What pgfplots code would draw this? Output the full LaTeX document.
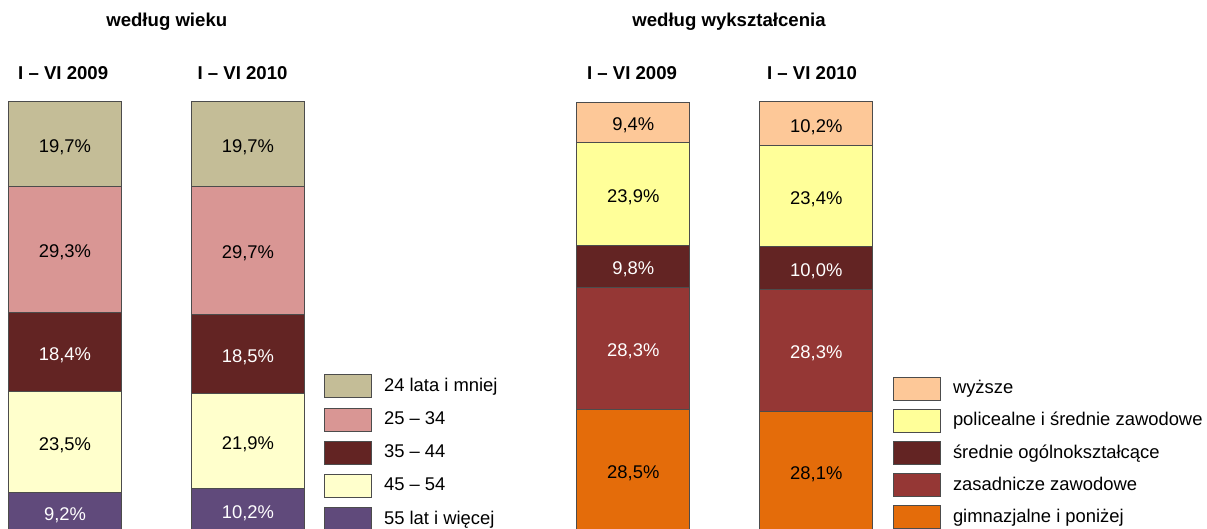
\documentclass[border=0pt]{standalone}
\usepackage{pgfplots}
\pgfplotsset{compat=1.18}
\usepackage{fontspec}
\setmainfont{Liberation Sans}
\definecolor{cA}{HTML}{C4BD97}
\definecolor{cB}{HTML}{D99694}
\definecolor{cC}{HTML}{632423}
\definecolor{cD}{HTML}{FFFFCC}
\definecolor{cE}{HTML}{604A7B}
\definecolor{eA}{HTML}{FDC898}
\definecolor{eB}{HTML}{FFFF99}
\definecolor{eC}{HTML}{632423}
\definecolor{eD}{HTML}{953735}
\definecolor{eE}{HTML}{E46C0A}
\pgfplotsset{
  base/.style={x=91.5pt, y=2.15pt, ymin=0, ymax=100, hide axis, clip=false, anchor=south west},
  leftax/.style={base, xmin=-0.3552, xmax=1.34, at={(0pt,-1.5pt)}},
  rightax/.style={base, xmin=-1, xmax=2, at={(225.15pt,-1.5pt)}},
  seg/.style={fill=#1, draw=black!70, line width=0.5pt,
    legend image code/.code={\draw[##1] (0pt,-5.75pt) rectangle (23.5pt,5.75pt);}},
  lab/.style={draw=none, mark=none, point meta=explicit,
    nodes near coords={\pgfmathprintnumber[assume math mode=true,use comma,fixed,fixed zerofill,precision=1]{\pgfplotspointmeta}\%},
    nodes near coords align=center,
    every node near coord/.append style={font=\fontsize{9.2}{11}\selectfont, text=#1, inner sep=0pt, anchor=center, yshift=-1.5pt}},
  legst/.style={legend style={draw=none, fill=none, inner sep=0pt, outer sep=0pt,
    column sep=6pt, anchor=north west,
    nodes={inner sep=0pt, anchor=west, font=\fontsize{9.2}{11}\selectfont}}},
}
\begin{document}
\begin{tikzpicture}
\useasboundingbox (0pt,0pt) rectangle (603.5pt,264.5pt);
% ---------- left: by age ----------
\begin{axis}[leftax, ybar stacked, bar width=56.5pt, legst, reverse legend,
  legend style={at={(1.0445,0.3663)}, row sep=4.6pt}]
\addplot[seg=cE] coordinates {(0,9.2) (1,10.2)};
\addlegendentry{55 lat i więcej}
\addplot[seg=cD] coordinates {(0,23.5) (1,21.9)};
\addlegendentry{45 – 54}
\addplot[seg=cC] coordinates {(0,18.4) (1,18.5)};
\addlegendentry{35 – 44}
\addplot[seg=cB] coordinates {(0,29.3) (1,29.7)};
\addlegendentry{25 – 34}
\addplot[seg=cA] coordinates {(0,19.7) (1,19.7)};
\addlegendentry{24 lata i mniej}
\end{axis}
\begin{axis}[leftax]
\addplot[lab=black] table[x=x,y=y,meta=v] {
x y v
0 90.25 19.7
0 65.75 29.3
0 20.95 23.5
1 90.15 19.7
1 65.45 29.7
1 21.15 21.9
};
\addplot[lab=white] table[x=x,y=y,meta=v] {
x y v
0 41.9 18.4
0 4.6 9.2
1 41.35 18.5
1 5.1 10.2
};
\node[font=\bfseries\fontsize{9.3}{11}\selectfont] at (axis cs:0.556,118.6) {według wieku};
\node[font=\bfseries\fontsize{9.3}{11}\selectfont] at (axis cs:-0.01,106.74) {I – VI 2009};
\node[font=\bfseries\fontsize{9.3}{11}\selectfont] at (axis cs:0.97,106.74) {I – VI 2010};
\end{axis}
% ---------- right: by education ----------
\begin{axis}[rightax, ybar stacked, bar width=56.5pt, legst, reverse legend,
  legend style={at={(0.8064,0.3616)}, row sep=4.1pt}]
\addplot[seg=eE] coordinates {(0,28.5) (1,28.1)};
\addlegendentry{gimnazjalne i poniżej}
\addplot[seg=eD] coordinates {(0,28.3) (1,28.3)};
\addlegendentry{zasadnicze zawodowe}
\addplot[seg=eC] coordinates {(0,9.8) (1,10.0)};
\addlegendentry{średnie ogólnokształcące}
\addplot[seg=eB] coordinates {(0,23.9) (1,23.4)};
\addlegendentry{policealne i średnie zawodowe}
\addplot[seg=eA] coordinates {(0,9.4) (1,10.2)};
\addlegendentry{wyższe}
\end{axis}
\begin{axis}[rightax]
\addplot[lab=black] table[x=x,y=y,meta=v] {
x y v
0 95.2 9.4
0 78.55 23.9
0 14.25 28.5
1 94.9 10.2
1 78.1 23.4
1 14.05 28.1
};
\addplot[lab=white] table[x=x,y=y,meta=v] {
x y v
0 61.7 9.8
0 42.65 28.3
1 61.4 10.0
1 42.25 28.3
};
\node[font=\bfseries\fontsize{9.3}{11}\selectfont] at (axis cs:0.523,118.6) {według wykształcenia};
\node[font=\bfseries\fontsize{9.3}{11}\selectfont] at (axis cs:-0.007,106.74) {I – VI 2009};
\node[font=\bfseries\fontsize{9.3}{11}\selectfont] at (axis cs:0.977,106.74) {I – VI 2010};
\end{axis}
\end{tikzpicture}
\end{document}
